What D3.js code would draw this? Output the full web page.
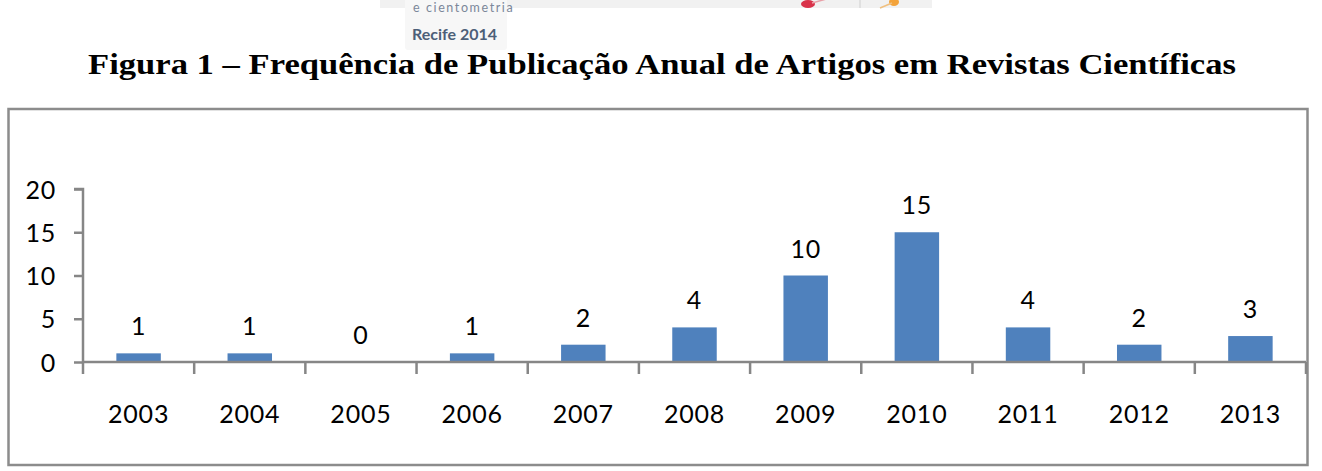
<!DOCTYPE html>
<html><head><meta charset="utf-8">
<script src="https://cdn.jsdelivr.net/npm/d3@7"></script>
<style>body{margin:0;background:#fff;}svg{display:block;}</style>
</head><body>
<script>
const years = ["2003","2004","2005","2006","2007","2008","2009","2010","2011","2012","2013"];
const counts = [1,1,0,1,2,4,10,15,4,2,3];
const yTicks = [0,5,10,15,20];
const titleText = "Figura 1 \u2013 Frequ\u00eancia de Publica\u00e7\u00e3o Anual de Artigos em Revistas Cient\u00edficas";

const W = 1322, H = 471;
const svg = d3.select("body").append("svg").attr("width", W).attr("height", H);

// partial logo strip at top
const logo = svg.append("g");
logo.append("rect").attr("x",380).attr("y",0).attr("width",552).attr("height",8).attr("fill","#f1f1f1");
logo.append("rect").attr("x",405).attr("y",-2).attr("width",102).attr("height",52).attr("fill","#f7f7f7").attr("rx",3);
logo.append("text").attr("x",413).attr("y",12).attr("font-family","Lato, sans-serif").attr("font-size",12.5).attr("fill","#7b879a").attr("letter-spacing",1.6).text("e cientometria");
logo.append("text").attr("x",412).attr("y",40).attr("font-family","Lato, sans-serif").attr("font-weight","bold").attr("font-size",16).attr("fill","#4d5f78").text("Recife 2014");
logo.append("ellipse").attr("cx",808).attr("cy",4).attr("rx",7).attr("ry",4).attr("fill","#d9334a");
logo.append("line").attr("x1",812).attr("y1",3).attr("x2",830).attr("y2",-2).attr("stroke","#e9a0a8").attr("stroke-width",1.5);
logo.append("ellipse").attr("cx",894).attr("cy",2).attr("rx",5).attr("ry",4).attr("fill","#f3a33a");
logo.append("line").attr("x1",880).attr("y1",8).attr("x2",892).attr("y2",3).attr("stroke","#f0c080").attr("stroke-width",1.5);
logo.append("line").attr("x1",860).attr("y1",0).attr("x2",860).attr("y2",8).attr("stroke","#cfcfcf").attr("stroke-width",1);

// title
svg.append("text").attr("x",88).attr("y",74)
  .attr("font-family","'Liberation Serif', 'Times New Roman', serif").attr("font-weight","bold")
  .attr("font-size",30).attr("fill","#000")
  .attr("textLength",1148).attr("lengthAdjust","spacingAndGlyphs").text(titleText);

// chart box
svg.append("rect").attr("x",8.5).attr("y",109).attr("width",1299).attr("height",356)
  .attr("fill","#fff").attr("stroke","#8c8c8c").attr("stroke-width",2.5);

const x0 = 83, x1 = 1306, yBase = 362, yTop = 189;
const x = d3.scaleBand().domain(years).range([x0, x1]).paddingInner(0.6).paddingOuter(0.3);
const xb = d3.scaleBand().domain(years).range([x0, x1]);
const y = d3.scaleLinear().domain([0,20]).range([yBase, yTop]);

const axisColor = "#868686";
const font = "Lato, 'Open Sans', sans-serif";
const fs = 25;

// bars
svg.append("g").selectAll("rect").data(years).join("rect")
  .attr("x", d => x(d)).attr("width", x.bandwidth())
  .attr("y", (d,i) => y(counts[i])).attr("height", (d,i) => yBase - y(counts[i]))
  .attr("fill","#4f81bd");

// y axis
const yAxis = d3.axisLeft(y).tickValues(yTicks).tickSize(9).tickPadding(18);
const gy = svg.append("g").attr("transform",`translate(${x0},0)`).call(yAxis);
gy.select(".domain").attr("stroke",axisColor).attr("stroke-width",2.5).attr("d",`M-9,${yTop}H0V${yBase}`);
gy.selectAll(".tick line").attr("stroke",axisColor).attr("stroke-width",2.5);
gy.selectAll(".tick text").attr("font-family",font).attr("font-size",fs).attr("fill","#000")
  .attr("letter-spacing",0.8).attr("dy","0.36em");

// x axis
const gx = svg.append("g").attr("transform",`translate(0,${yBase})`);
gx.append("line").attr("x1",x0).attr("x2",x1).attr("stroke",axisColor).attr("stroke-width",2.5);
const bounds = years.map(d => xb(d)).concat([x1]);
gx.selectAll("line.tk").data(bounds).join("line").attr("class","tk")
  .attr("x1",d=>d).attr("x2",d=>d).attr("y1",0).attr("y2",12).attr("stroke",axisColor).attr("stroke-width",2.5);
gx.selectAll("text").data(years).join("text")
  .attr("x", d => xb(d) + xb.bandwidth()/2).attr("y", 61).attr("text-anchor","middle")
  .attr("font-family",font).attr("font-size",fs).attr("letter-spacing",0.8).attr("fill","#000").text(d => d);

// data labels
svg.append("g").selectAll("text").data(years).join("text")
  .attr("x", d => x(d) + x.bandwidth()/2).attr("y", (d,i) => y(counts[i]) - 27)
  .attr("dy","0.36em").attr("text-anchor","middle")
  .attr("font-family",font).attr("font-size",fs).attr("letter-spacing",0.8).attr("fill","#000")
  .text((d,i) => counts[i]);
</script>
</body></html>
